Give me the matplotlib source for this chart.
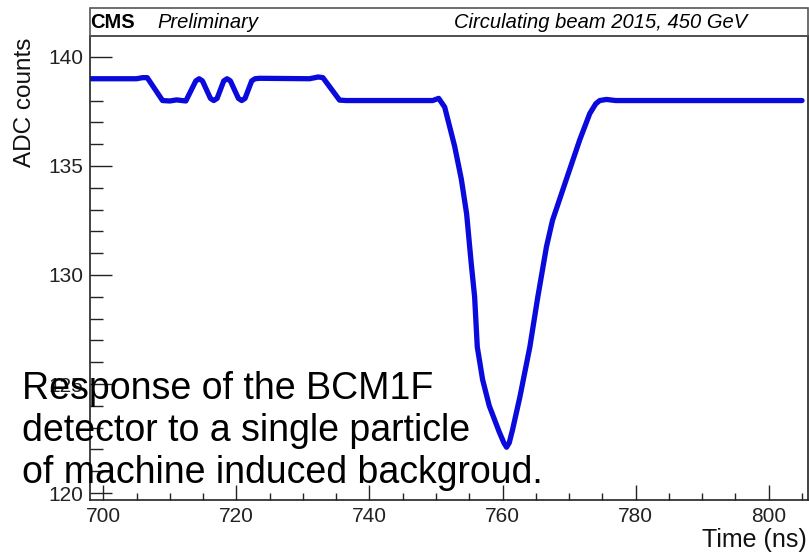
import matplotlib
matplotlib.use("Agg")
import matplotlib.pyplot as plt
from matplotlib.patches import Rectangle
from matplotlib.ticker import MultipleLocator

plt.rcParams['font.family'] = ['Liberation Sans', 'DejaVu Sans']

# BCM1F signal
time_ns = [698, 705, 705.9, 706.6, 708.9, 710, 711, 712.4,
           713.9, 714.4, 714.9, 716.1, 716.6, 717.1, 718.1, 718.6, 719.1,
           720.3, 720.8, 721.3, 722.3, 722.8, 723.5,
           731, 732.3, 733, 735.5, 736.5, 749.5, 750.4, 751.3, 752.8, 753.8, 754.6,
           755.3, 755.8, 756.2, 757.0, 758.0, 759.5, 760.2, 760.6, 761.0, 761.5, 762.6,
           764.1, 765.3, 766.6, 767.5, 769.6, 771.6, 773.1, 774.0, 774.6, 775.6, 777, 805]
adc_counts = [139, 139, 139.05, 139.05, 138, 137.98, 138.03, 137.98,
              138.9, 139, 138.9, 138.1, 138, 138.1, 138.9, 139, 138.9,
              138.1, 138, 138.1, 138.9, 139, 139.02,
              139, 139.08, 139.05, 138.02, 138, 138, 138.1, 137.7, 135.9, 134.4, 132.8,
              130.5, 129.0, 126.7, 125.2, 124.0, 122.8, 122.3, 122.1, 122.3, 122.9, 124.4,
              126.7, 129.0, 131.3, 132.5, 134.4, 136.2, 137.4, 137.85, 138.0, 138.05, 138, 138]

x_ticks = [700, 720, 740, 760, 780, 800]
y_ticks = [120, 125, 130, 135, 140]
note_lines = ["Response of the BCM1F",
              "detector to a single particle",
              "of machine induced backgroud."]

W, H = 809, 554
fig = plt.figure(figsize=(W / 100, H / 100), dpi=100)
ax = fig.add_axes([90 / W, (H - 500) / H, (808 - 90) / W, (500 - 36) / H])

ax.plot(time_ns, adc_counts, color='#0a0adc', lw=3.8,
        solid_joinstyle='round', solid_capstyle='round')

ax.set_xlim(698, 805.9)
ax.set_ylim(119.68, 140.96)
ax.set_xticks(x_ticks)
ax.set_yticks(y_ticks)
ax.xaxis.set_minor_locator(MultipleLocator(5))
ax.yaxis.set_minor_locator(MultipleLocator(1))
ax.tick_params(axis='both', which='both', direction='in', colors='#222222',
               labelsize=15, top=False, right=False)
ax.tick_params(axis='y', which='major', length=16, width=1, pad=5)
ax.tick_params(axis='y', which='minor', length=9, width=1)
ax.tick_params(axis='x', which='major', length=11, width=1, pad=5)
ax.tick_params(axis='x', which='minor', length=5, width=1)
for s in ax.spines.values():
    s.set_linewidth(1.2)
    s.set_color('#222222')

# header box on top of the frame
fig.add_artist(Rectangle((90 / W, (H - 36) / H), (808 - 90) / W, 28 / H,
                         transform=fig.transFigure, fill=False,
                         edgecolor='#555555', lw=1.2))
fig.text(90 / W, (H - 22) / H, "CMS", fontsize=14.5, fontweight='bold', va='center')
fig.text(157 / W, (H - 22) / H, "Preliminary", fontsize=14.5, style='italic', va='center')
fig.text(747 / W, (H - 22) / H, "Circulating beam 2015, 450 GeV", fontsize=14.5,
         style='italic', ha='right', va='center')

fig.text(25 / W, (H - 38) / H, "ADC counts", fontsize=17.5, rotation=90,
         ha='center', va='top', color='#111111')
fig.text(807 / W, (H - 540) / H, "Time (ns)", fontsize=18, ha='right', va='center',
         color='#111111')

for i, line in enumerate(note_lines):
    fig.text(22 / W, (H - 399 - 42 * i) / H, line, fontsize=27, va='baseline')

fig.savefig("out.png", dpi=100)
